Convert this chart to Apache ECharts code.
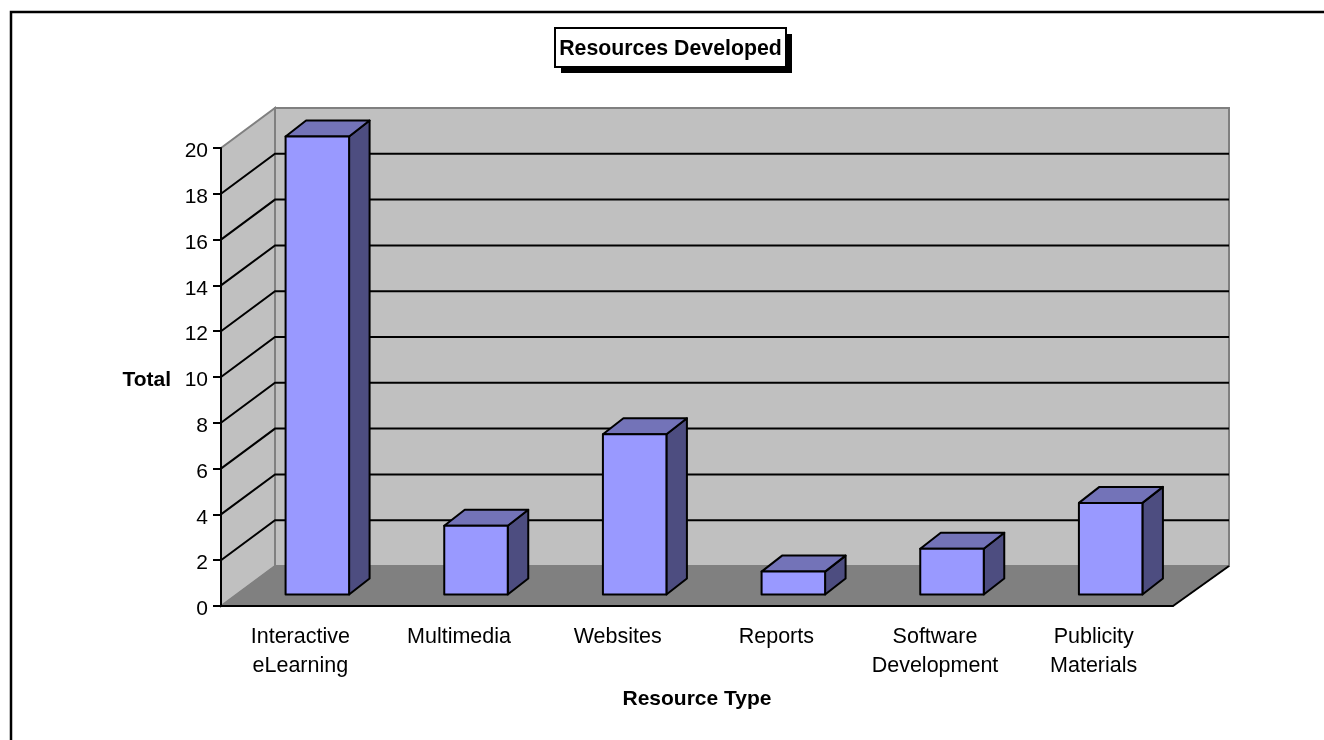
<!DOCTYPE html>
<html>
<head>
<meta charset="utf-8">
<style>html,body{margin:0;padding:0;background:#fff}#c{width:1324px;height:740px}</style>
<script src="https://cdn.jsdelivr.net/npm/echarts@6/dist/echarts.min.js"></script>
</head>
<body>
<div id="c"></div>
<script>
const categories = ['Interactive\neLearning', 'Multimedia', 'Websites', 'Reports', 'Software\nDevelopment', 'Publicity\nMaterials'];
const totals = [20, 3, 7, 1, 2, 4];
const gridValues = [2, 4, 6, 8, 10, 12, 14, 16, 18];

const FONT = '"Liberation Sans", Arial, sans-serif';
const wallLeftDx = 54, wallRightDx = 56, wallDy = 40;
const barShiftX = 17, barShiftY = 11.5, barDepthX = 20.5, barDepthY = 16, barWidth = 63.5;

const chart = echarts.init(document.getElementById('c'), null, {renderer: 'canvas'});

function renderWalls(params, api) {
  const g = params.coordSys;
  const L = g.x, R = g.x + g.width, T = g.y, B = g.y + g.height;
  const bl = L + wallLeftDx, br = R + wallRightDx, bt = T - wallDy, bb = B - wallDy;
  const edge = {stroke: '#808080', lineWidth: 2};
  return {type: 'group', children: [
    {type: 'polygon', shape: {points: [[bl, bt], [br, bt], [br, bb], [bl, bb]]}, style: Object.assign({fill: '#c0c0c0'}, edge)},
    {type: 'polygon', shape: {points: [[L, T], [bl, bt], [bl, bb], [L, B]]}, style: Object.assign({fill: '#c0c0c0'}, edge)},
    {type: 'polygon', shape: {points: [[L, B], [bl, bb], [br, bb], [R, B]]}, style: {fill: '#808080', stroke: '#808080', lineWidth: 1}},
    {type: 'line', shape: {x1: R, y1: B, x2: br, y2: bb}, style: {stroke: '#000', lineWidth: 2}}
  ]};
}

function renderGrid(params, api) {
  const g = params.coordSys;
  const y = api.coord([0, api.value(0)])[1];
  const L = g.x, R = g.x + g.width;
  const s = {stroke: '#000', lineWidth: 2, fill: null};
  return {type: 'group', children: [
    {type: 'polyline', shape: {points: [[L, y], [L + wallLeftDx, y - wallDy], [R + wallRightDx, y - wallDy]]}, style: s}
  ]};
}

function renderBar(params, api) {
  const base = api.coord([api.value(0), 0]);
  const top = api.coord([api.value(0), api.value(1)]);
  const x0 = base[0] - barWidth / 2 + barShiftX, x1 = x0 + barWidth;
  const yb = base[1] - barShiftY, yt = top[1] - barShiftY;
  const s = {stroke: '#000', lineWidth: 2, lineJoin: 'round'};
  return {type: 'group', children: [
    {type: 'polygon', shape: {points: [[x1, yt], [x1 + barDepthX, yt - barDepthY], [x1 + barDepthX, yb - barDepthY], [x1, yb]]}, style: Object.assign({fill: '#4d4d80'}, s)},
    {type: 'polygon', shape: {points: [[x0, yt], [x0 + barDepthX, yt - barDepthY], [x1 + barDepthX, yt - barDepthY], [x1, yt]]}, style: Object.assign({fill: '#7373b8'}, s)},
    {type: 'polygon', shape: {points: [[x0, yt], [x1, yt], [x1, yb], [x0, yb]]}, style: Object.assign({fill: '#9999ff'}, s)}
  ]};
}

chart.setOption({
  animation: false,
  backgroundColor: '#fff',
  graphic: [
    {type: 'polyline', shape: {points: [[11, 740], [11, 12], [1324, 12]]}, style: {stroke: '#000', lineWidth: 2.5, fill: null}},
    {type: 'rect', z: 1, shape: {x: 561, y: 34, width: 231, height: 39}, style: {fill: '#000'}},
    {type: 'rect', z: 2, shape: {x: 555, y: 28, width: 231, height: 39}, style: {fill: '#fff', stroke: '#000', lineWidth: 2}},
    {type: 'text', z: 3, x: 670.5, y: 49, style: {text: 'Resources Developed', fill: '#000', align: 'center', verticalAlign: 'middle', font: 'bold 21.3px "Liberation Sans", Arial, sans-serif'}}
  ],
  grid: {left: 221, top: 148, width: 952, height: 458},
  xAxis: {
    type: 'category',
    data: categories,
    z: 5,
    name: 'Resource Type',
    nameLocation: 'middle',
    nameGap: 83,
    nameTextStyle: {fontFamily: FONT, fontSize: 21, fontWeight: 'bold', color: '#000'},
    axisLine: {lineStyle: {color: '#000', width: 2}},
    axisTick: {length: 10, lineStyle: {color: '#000', width: 2}, alignWithLabel: false},
    axisLabel: {fontFamily: FONT, fontSize: 21.5, lineHeight: 29, color: '#000', margin: 17, interval: 0},
    splitLine: {show: false}
  },
  yAxis: {
    type: 'value',
    min: 0, max: 20, interval: 2,
    z: 5,
    name: 'Total',
    nameLocation: 'middle',
    nameRotate: 0,
    nameGap: 50,
    nameTextStyle: {fontFamily: FONT, fontSize: 21, fontWeight: 'bold', color: '#000', verticalAlign: 'top', lineHeight: 6},
    axisLine: {show: true, lineStyle: {color: '#000', width: 2}},
    axisTick: {show: true, length: 8, lineStyle: {color: '#000', width: 2}},
    axisLabel: {fontFamily: FONT, fontSize: 21, color: '#000', margin: 13, verticalAlign: 'top', lineHeight: 7},
    splitLine: {show: false}
  },
  series: [
    {type: 'custom', coordinateSystem: 'cartesian2d', silent: true, z: 1, data: [[0, 0]], renderItem: renderWalls, clip: false},
    {type: 'custom', coordinateSystem: 'cartesian2d', silent: true, z: 2, data: gridValues.map(v => [v]), encode: {x: -1, y: 0}, renderItem: renderGrid, clip: false},
    {type: 'custom', coordinateSystem: 'cartesian2d', z: 3, data: totals.map((v, i) => [i, v]), encode: {x: 0, y: 1}, renderItem: renderBar, clip: false}
  ]
});
</script>
</body>
</html>
